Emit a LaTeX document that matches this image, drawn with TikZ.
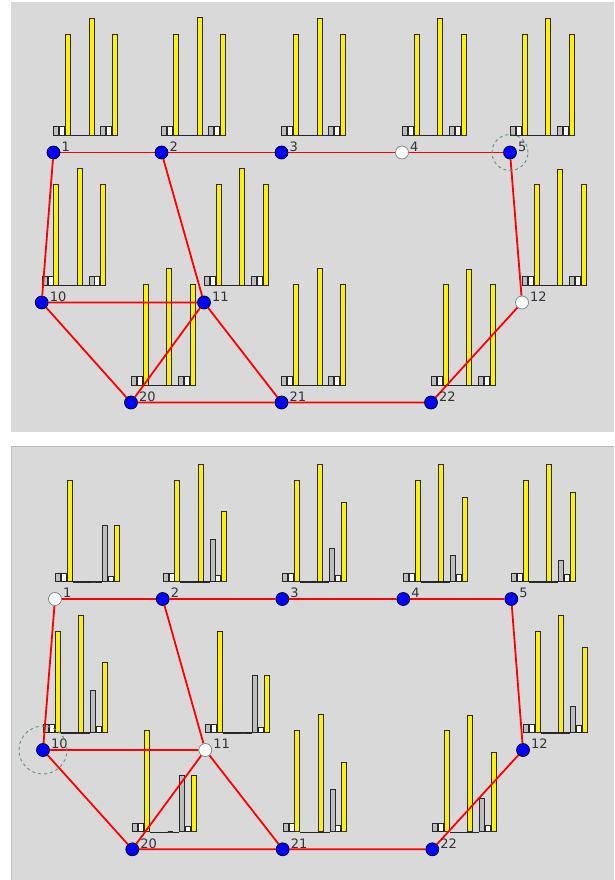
\documentclass[tikz,border=0pt]{standalone}
\usepackage{fontspec}
\setmainfont{DejaVu Sans}
\definecolor{panelgray}{RGB}{217,217,217}
\definecolor{paneledge}{RGB}{190,186,180}
\definecolor{barline}{RGB}{40,40,40}
\definecolor{lowbar}{RGB}{190,190,190}
\definecolor{ringgreen}{RGB}{90,150,120}
\definecolor{lblgray}{RGB}{50,50,60}
\pgfdeclarelayer{back}
\pgfdeclarelayer{mid}
\pgfsetlayers{back,mid,main}
\tikzset{
  vertex/.style={circle,draw=black,fill=blue,minimum size=13pt,inner sep=0pt,line width=0.7pt},
  idle/.style={vertex,fill=white,draw=gray},
  lbl/.style={font=\fontsize{13}{15}\selectfont,text=lblgray,inner sep=1pt,yshift=6pt},
  link/.style={red,line width=1.8pt},
  bar/.style={draw=barline,line width=0.9pt},
  ring/.style={draw=ringgreen,dashed,dash pattern=on 3pt off 3pt,line width=0.9pt},
}
\newcommand{\sw}{5.87}
% \histo{node}{h2}{h6}{h8}{h9}{h10}
\newcommand{\histo}[6]{%
  \begin{scope}[shift={(#1)}]
  \draw[line width=1.5pt,barline] (3*\sw,-16.9) -- (8*\sw,-16.9);
  \draw[bar,fill=lowbar] (0.4,-17.5) rectangle ++(5,-8.3);
  \draw[bar,fill=white] (\sw+0.4,-17.5) rectangle ++(5,-8.3);
  \draw[bar,fill=yellow] (2*\sw+0.4,-17.5) rectangle ++(5,-#2);
  \draw[bar,fill=yellow] (6*\sw+0.4,-17.5) rectangle ++(5,-#3);
  \draw[bar,fill=lowbar] (8*\sw+0.4,-17.5) rectangle ++(5,-#4);
  \draw[bar,fill=white] (9*\sw+0.4,-17.5) rectangle ++(5,-#5);
  \draw[bar,fill=yellow] (10*\sw+0.4,-17.5) rectangle ++(5,-#6);
  \end{scope}}
\begin{document}
\begin{tikzpicture}[x=1pt,y=-1pt]
\useasboundingbox (0,0) rectangle (615,880);
\begin{pgfonlayer}{back}
\fill[panelgray] (11,2) rectangle (613.5,432);
\fill[panelgray] (11,446) rectangle (613.5,880);
\draw[paneledge,line width=0.8pt] (11.4,880) -- (11.4,446.4) -- (613.5,446.4);
\end{pgfonlayer}

% upper panel
\node[vertex,label={[lbl]right:1}] (t1) at (53.5,152.5) {};
\node[vertex,label={[lbl]right:2}] (t2) at (161.5,152.5) {};
\node[vertex,label={[lbl]right:3}] (t3) at (281.5,152.5) {};
\node[idle,label={[lbl]right:4}] (t4) at (402,152.5) {};
\node[vertex,label={[lbl]right:5}] (t5) at (510,152.5) {};
\node[vertex,label={[lbl]right:10}] (t10) at (41.7,302.5) {};
\node[vertex,label={[lbl]right:11}] (t11) at (204,302.5) {};
\node[idle,label={[lbl]right:12}] (t12) at (522,302.5) {};
\node[vertex,label={[lbl]right:20}] (t20) at (131,402.5) {};
\node[vertex,label={[lbl]right:21}] (t21) at (281.5,402.5) {};
\node[vertex,label={[lbl]right:22}] (t22) at (431,402.5) {};
\draw[ring] (t5) circle [radius=18pt];

% lower panel
\node[idle,label={[lbl]right:1}] (b1) at (55,599) {};
\node[vertex,label={[lbl]right:2}] (b2) at (162.7,599) {};
\node[vertex,label={[lbl]right:3}] (b3) at (282.3,599) {};
\node[vertex,label={[lbl]right:4}] (b4) at (403.3,599) {};
\node[vertex,label={[lbl]right:5}] (b5) at (511.3,599) {};
\node[vertex,label={[lbl]right:10}] (b10) at (43,750) {};
\node[idle,label={[lbl]right:11}] (b11) at (205.3,750) {};
\node[vertex,label={[lbl]right:12}] (b12) at (523,750) {};
\node[vertex,label={[lbl]right:20}] (b20) at (132.3,849.3) {};
\node[vertex,label={[lbl]right:21}] (b21) at (282.7,849.3) {};
\node[vertex,label={[lbl]right:22}] (b22) at (432.3,849.3) {};
\draw[ring] (b10) circle [radius=24pt];

\begin{pgfonlayer}{back}
\histo{t1}{101}{117}{8.3}{8.3}{101}
\histo{t2}{101}{118}{8.3}{8.3}{101}
\histo{t3}{101}{117}{8.3}{8.3}{101}
\histo{t4}{101}{117}{8.3}{8.3}{101}
\histo{t5}{101}{117}{8.3}{8.3}{101}
\histo{t10}{101}{117}{8.3}{8.3}{101}
\histo{t11}{101}{117}{8.3}{8.3}{101}
\histo{t12}{101}{116}{8.3}{8.3}{101}
\histo{t20}{101}{117}{8.3}{8.3}{101}
\histo{t21}{101}{117}{8.3}{8.3}{101}
\histo{t22}{101}{116}{8.3}{8.3}{101}
\histo{b1}{101}{0}{56.5}{5.3}{56.5}
\histo{b2}{101}{116.7}{42.3}{6}{69.7}
\histo{b3}{101}{116.7}{33}{6}{79}
\histo{b4}{101}{116.7}{26}{7}{84.3}
\histo{b5}{101}{116.7}{21.3}{7}{89.3}
\histo{b10}{101}{117}{42.3}{5.7}{69.7}
\histo{b11}{101}{0}{56.7}{5}{56.7}
\histo{b12}{101}{116.7}{26}{7}{85}
\histo{b20}{101}{0}{56.7}{5}{56.7}
\histo{b21}{101}{117}{42.3}{6.3}{69.7}
\histo{b22}{101}{116.7}{33}{6.3}{79}
\end{pgfonlayer}

\begin{pgfonlayer}{mid}
\draw[link] (t1) -- (t2) -- (t3) -- (t4) -- (t5);
\draw[link] (t1) -- (t10) -- (t11) -- (t2);
\draw[link] (t10) -- (t20) -- (t21) -- (t22) -- (t12) -- (t5);
\draw[link] (t20) -- (t11) -- (t21);
\draw[link] (b1) -- (b2) -- (b3) -- (b4) -- (b5);
\draw[link] (b1) -- (b10) -- (b11) -- (b2);
\draw[link] (b10) -- (b20) -- (b21) -- (b22) -- (b12) -- (b5);
\draw[link] (b20) -- (b11) -- (b21);
\end{pgfonlayer}
\end{tikzpicture}
\end{document}
